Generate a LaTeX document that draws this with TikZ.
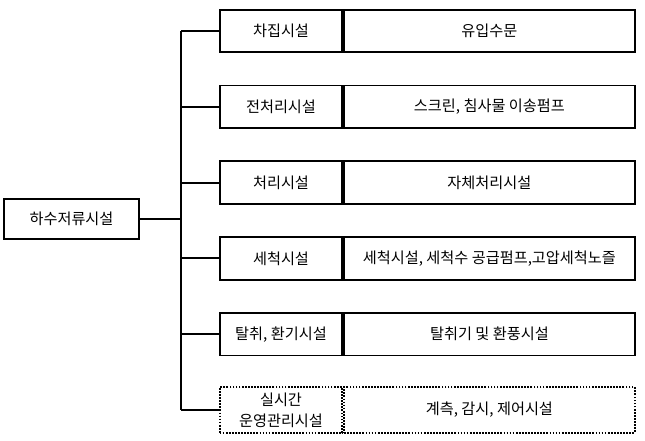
\documentclass[tikz,border=0pt]{standalone}
\usepackage{fontspec}
\setmainfont{Noto Sans CJK KR}
\usetikzlibrary{positioning}

\begin{document}
\begin{tikzpicture}[x=0.75pt, y=-0.75pt, font=\fontsize{11.4}{15.5}\selectfont, node distance=0pt,
  root/.style={draw, line width=1.3pt, minimum width=101pt, minimum height=30pt, inner sep=2pt},
  nm/.style={draw, line width=1.3pt, align=center, minimum width=92pt, minimum height=32pt, inner sep=2pt},
  ds/.style={draw, line width=1.3pt, align=center, minimum width=218pt, minimum height=32pt, inner sep=2pt},
  ln/.style={line width=1.4pt}]
\useasboundingbox (0,0) rectangle (645,441);
\node[root] (r) at (71.5,219) {하수저류시설};
\coordinate (tr) at (181,219);
\node[nm] (n1) at (281,31) {차집시설};
\node[ds, right=of n1] (d1) {유입수문};
\node[nm] (n2) at (281,106.8) {전처리시설};
\node[ds, right=of n2] (d2) {스크린, 침사물 이송펌프};
\node[nm] (n3) at (281,182.6) {처리시설};
\node[ds, right=of n3] (d3) {자체처리시설};
\node[nm] (n4) at (281,258.4) {세척시설};
\node[ds, right=of n4] (d4) {세척시설, 세척수 공급펌프,고압세척노즐};
\node[nm] (n5) at (281,334.2) {탈취, 환기시설};
\node[ds, right=of n5] (d5) {탈취기 및 환풍시설};
\node[nm, densely dotted, minimum height=34pt] (n6) at (281,410) {실시간\\운영관리시설};
\node[ds, densely dotted, minimum height=34pt, right=of n6] (d6) {계측, 감시, 제어시설};
% tree lines
\draw[ln] (r.east) -- (tr);
\draw[ln] (n1.west -| tr) -- (n6.west -| tr);
\foreach \n in {n1,n2,n3,n4,n5,n6} {\draw[ln] (\n.west) -- (\n.west -| tr);}
\end{tikzpicture}
\end{document}
